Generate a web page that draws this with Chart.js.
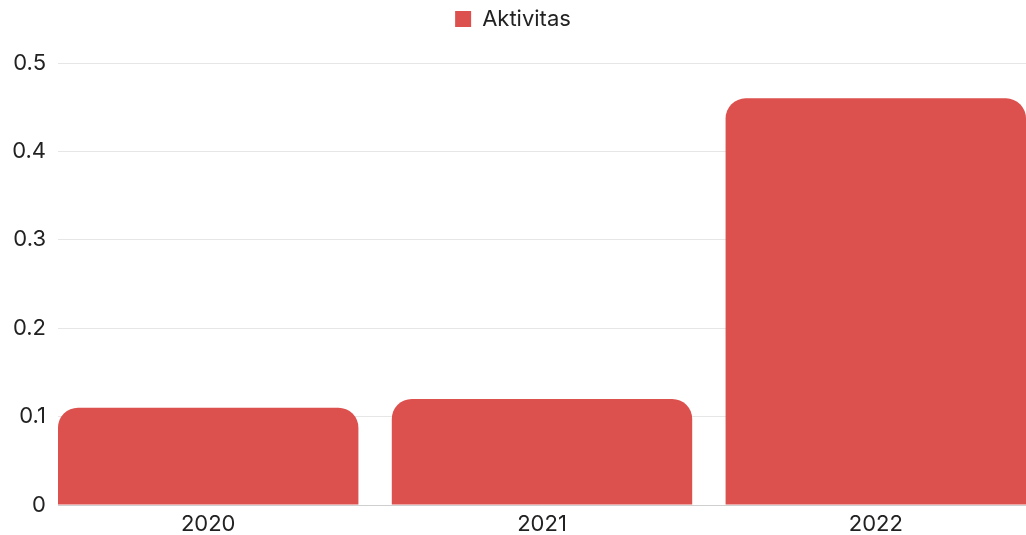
<!DOCTYPE html>
<html>
<head>
<meta charset="utf-8">
<script src="https://cdn.jsdelivr.net/npm/chart.js@4"></script>
<style>
  html, body { margin: 0; padding: 0; background: #fff; overflow: hidden; }
  canvas { display: block; }
</style>
</head>
<body>
<canvas id="barChart" width="1026" height="535"></canvas>
<script>
// data
const years = ["2020", "2021", "2022"];
const aktivitas = [0.11, 0.12, 0.46];
const yTicks = [0, 0.1, 0.2, 0.3, 0.4, 0.5];

const barColor = "#dc504e";
const textColor = "#222";
const fontFamily = "Inter, sans-serif";

// bars placed on a linear x axis so that spacing/edges match the reference
const points = years.map((y, i) => ({ x: i, y: aktivitas[i] }));

// a bit of extra space under the legend
const legendSpacing = {
  id: "legendSpacing",
  beforeInit(chart) {
    const fit = chart.legend.fit;
    chart.legend.fit = function () {
      fit.call(this);
      this.height += 23;
    };
  },
};

const ctx = document.getElementById("barChart").getContext("2d");
new Chart(ctx, {
  type: "bar",
  data: {
    datasets: [
      {
        label: "Aktivitas",
        data: points,
        backgroundColor: barColor,
        borderRadius: 20,
        borderSkipped: "bottom",
        categoryPercentage: 1.0,
        barPercentage: 0.9,
      },
    ],
  },
  options: {
    responsive: false,
    animation: false,
    layout: { padding: { left: 0, right: 0, top: 1, bottom: 0 } },
    plugins: {
      legend: {
        position: "top",
        labels: {
          color: textColor,
          font: { family: fontFamily, size: 22 },
          boxWidth: 16,
          boxHeight: 16,
          padding: 7,
        },
      },
      tooltip: { enabled: false },
    },
    scales: {
      x: {
        type: "linear",
        offset: false,
        min: -0.45,
        max: 2.45,
        grid: { display: false, drawTicks: false },
        border: { display: true, color: "#cfcfcf", width: 1 },
        afterFit: (scale) => {
          scale.height = 30;
        },
        ticks: {
          stepSize: 1,
          includeBounds: false,
          autoSkip: false,
          maxRotation: 0,
          padding: 7,
          color: textColor,
          font: { family: fontFamily, size: 22, lineHeight: 1.1 },
          callback: (v) => (Number.isInteger(v) ? years[v] : null),
        },
      },
      y: {
        min: 0,
        max: yTicks[yTicks.length - 1],
        afterBuildTicks: (scale) => {
          scale.ticks = yTicks.map((v) => ({ value: v }));
        },
        afterFit: (scale) => {
          scale.width = 58;
        },
        grid: { color: "#e6e6e6", drawTicks: false },
        border: { display: false },
        ticks: {
          padding: 12,
          color: textColor,
          font: { family: fontFamily, size: 22 },
          callback: (v) => String(v),
        },
      },
    },
  },
  plugins: [legendSpacing],
});
</script>
</body>
</html>
